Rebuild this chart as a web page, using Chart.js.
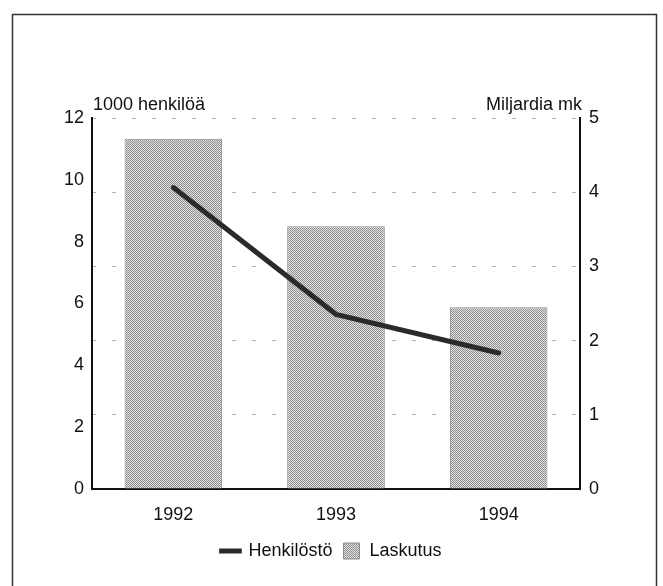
<!DOCTYPE html>
<html>
<head>
<meta charset="utf-8">
<script src="https://cdn.jsdelivr.net/npm/chart.js@4"></script>
<style>
  body { margin: 0; background: #fff; }
  canvas { display: block; }
</style>
</head>
<body>
<canvas id="chart" width="663" height="586"></canvas>
<script>
// data
const years = ['1992', '1993', '1994'];
const henkilosto = [9.75, 5.65, 4.4];      // 1000 henkilöä (left axis)
const laskutus = [4.72, 3.54, 2.45];       // Miljardia mk (right axis)
const leftTicks = [0, 2, 4, 6, 8, 10, 12];
const rightTicks = [0, 1, 2, 3, 4, 5];

const FONT = "'Liberation Sans', Arial, Helvetica, sans-serif";

// dotted grey fill like the printed screen
function makePattern() {
  const c = document.createElement('canvas');
  c.width = 2; c.height = 2;
  const g = c.getContext('2d');
  g.fillStyle = '#e2e2e2';
  g.fillRect(0, 0, 2, 2);
  g.fillStyle = '#8e8e8e';
  g.fillRect(0, 0, 1, 1);
  g.fillRect(1, 1, 1, 1);
  return g.createPattern(c, 'repeat');
}
const dots = makePattern();

const extras = {
  id: 'extras',
  afterDraw(chart) {
    const ctx = chart.ctx;
    const a = chart.chartArea;
    ctx.save();
    ctx.strokeStyle = '#333';
    ctx.lineWidth = 1.5;
    ctx.strokeRect(12.5, 14.5, 644, 600);
    ctx.fillStyle = '#111';
    ctx.font = '18px ' + FONT;
    ctx.textBaseline = 'alphabetic';
    ctx.textAlign = 'left';
    ctx.fillText('1000 henkilöä', a.left + 1, 110);
    ctx.textAlign = 'right';
    ctx.fillText('Miljardia mk', a.right + 2, 110);
    ctx.restore();
  }
};

const ctx = document.getElementById('chart').getContext('2d');
new Chart(ctx, {
  data: {
    labels: years,
    datasets: [{
      type: 'line',
      label: 'Henkilöstö',
      data: henkilosto,
      yAxisID: 'y',
      borderColor: '#2b2b2b',
      backgroundColor: '#2b2b2b',
      borderWidth: 5,
      borderCapStyle: 'round',
      pointRadius: 0,
      tension: 0,
      order: 1
    }, {
      type: 'bar',
      label: 'Laskutus',
      data: laskutus,
      yAxisID: 'y1',
      backgroundColor: dots,
      borderColor: '#8a8a8a',
      borderWidth: 1,
      barPercentage: 0.6,
      categoryPercentage: 1,
      order: 2
    }]
  },
  options: {
    responsive: false,
    animation: false,
    layout: { padding: { left: 0, right: 0, top: 118, bottom: 16 } },
    plugins: {
      tooltip: { enabled: false },
      legend: {
        position: 'bottom',
        labels: {
          color: '#111',
          font: { family: FONT, size: 18 },
          usePointStyle: true,
          boxHeight: 16,
          padding: 10,
          generateLabels(chart) {
            const items = Chart.defaults.plugins.legend.labels.generateLabels(chart);
            items[0].pointStyle = 'line';
            items[0].lineWidth = 5;
            items[0].strokeStyle = '#2b2b2b';
            items[1].pointStyle = 'rect';
            items[1].fillStyle = dots;
            items[1].strokeStyle = '#8a8a8a';
            items[1].lineWidth = 1;
            return items;
          }
        }
      }
    },
    scales: {
      x: {
        grid: { display: false, drawTicks: false },
        border: { display: true, color: '#111', width: 2 },
        ticks: { color: '#111', font: { family: FONT, size: 18 }, padding: 15 },
        afterFit(s) { s.height = 43; }
      },
      y: {
        position: 'left',
        min: 0, max: 12,
        afterBuildTicks(s) { s.ticks = leftTicks.map(v => ({ value: v })); },
        grid: { display: false, drawTicks: false },
        border: { display: true, color: '#111', width: 2 },
        ticks: { color: '#111', font: { family: FONT, size: 18 }, padding: 8 },
        afterFit(s) { s.width = 92; }
      },
      y1: {
        position: 'right',
        min: 0, max: 5,
        afterBuildTicks(s) { s.ticks = rightTicks.map(v => ({ value: v })); },
        grid: { drawTicks: false, color: '#b0b0b0', lineWidth: 1 },
        border: { display: true, color: '#111', width: 2, dash: [4, 16] },
        ticks: { color: '#111', font: { family: FONT, size: 18 }, padding: 9 },
        afterFit(s) { s.width = 83; }
      }
    }
  },
  plugins: [extras]
});
</script>
</body>
</html>
